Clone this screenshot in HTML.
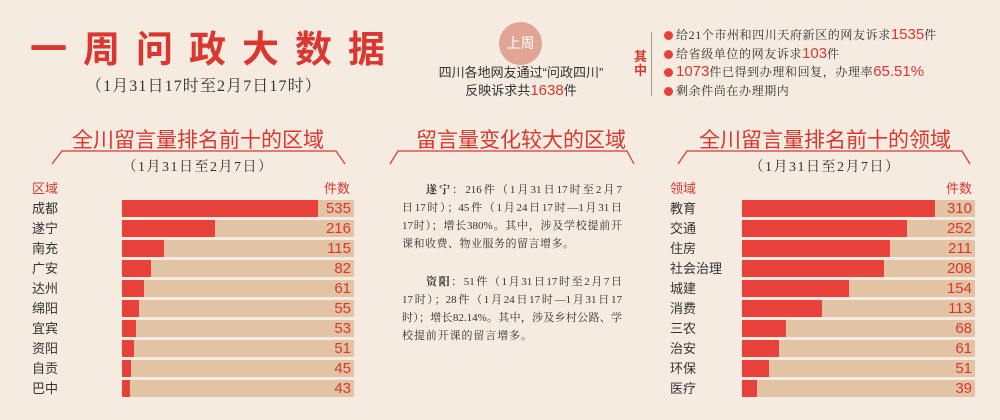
<!DOCTYPE html>
<html><head><meta charset="utf-8"><style>
body{margin:0;width:1000px;height:420px;background:#f5ebe0;position:relative;overflow:hidden;font-family:"Liberation Sans","Noto Sans CJK SC",sans-serif;}
.a{position:absolute;white-space:nowrap;}
.serif{font-family:"Liberation Serif","Noto Serif CJK SC",serif;}
.red{color:#d9372f;}
.bar{position:absolute;height:17px;background:#e2c4a4;}
.bar i{position:absolute;left:0;top:0;bottom:0;background:#e8413a;}
.bar b{position:absolute;right:3px;top:0;font-weight:normal;font-size:15px;line-height:17px;color:#d9372f;}
.lab{position:absolute;font-size:13px;color:#333;line-height:17px;}
.ml{position:absolute;left:402px;width:220px;height:18px;font-size:11px;color:#333;line-height:18px;text-align:justify;text-align-last:justify;text-justify:inter-character;}
.dot{display:inline-block;width:9px;height:9px;border-radius:50%;background:#e8413a;margin-right:3px;vertical-align:-1px;}
</style></head><body>
<div class="a red" style="left:30px;top:28px;font-size:37px;font-weight:bold;letter-spacing:16px;line-height:44px;">一周问政大数据</div>
<div class="a serif" style="left:86px;top:73px;font-size:16px;color:#333;letter-spacing:1.1px;">（1月31日17时至2月7日17时）</div>

<div class="a" style="left:499px;top:22px;width:43px;height:43px;border-radius:50%;background:#e0a595;color:#fff;font-size:14px;line-height:43px;text-align:center;">上周</div>
<div class="a" style="left:421px;top:64px;width:200px;text-align:center;font-size:13px;color:#333;line-height:18px;">四川各地网友通过“问政四川”<br>反映诉求共<span class="red" style="font-size:15px">1638</span>件</div>

<div class="a red" style="left:634px;top:50px;font-size:13px;line-height:14px;font-weight:bold;">其<br>中</div>
<div class="a" style="left:651px;top:32px;width:1px;height:64px;background:#999;"></div>
<div class="a serif" style="left:664px;top:26px;font-size:12px;color:#333;line-height:18.5px;letter-spacing:0.6px;">
<span class="dot"></span>给21个市州和四川天府新区的网友诉求<span class="red" style="font-family:'Liberation Sans';font-size:15px;letter-spacing:0">1535</span>件<br>
<span class="dot"></span>给省级单位的网友诉求<span class="red" style="font-family:'Liberation Sans';font-size:15px;letter-spacing:0">103</span>件<br>
<span class="dot"></span><span class="red" style="font-family:'Liberation Sans';font-size:15px;letter-spacing:0">1073</span>件已得到办理和回复，办理率<span class="red" style="font-family:'Liberation Sans';font-size:15px;letter-spacing:0">65.51%</span><br>
<span class="dot"></span>剩余件尚在办理期内</div>

<div class="a red" style="left:48px;top:124px;width:300px;text-align:center;font-size:21px;">全川留言量排名前十的区域</div>
<div class="a red" style="left:371px;top:124px;width:300px;text-align:center;font-size:21px;">留言量变化较大的区域</div>
<div class="a red" style="left:675px;top:124px;width:300px;text-align:center;font-size:21px;">全川留言量排名前十的领域</div>
<svg class="a" style="left:0;top:0" width="1000" height="420"><g fill="none" stroke="#d9372f" stroke-width="1.2">
<polyline points="52,164 62,151 336,151 345,164"/>
<polyline points="390,164 398,151 627,151 634,164"/>
<polyline points="678,164 687,151 962,151 970,164"/></g></svg>
<div class="a serif" style="left:48px;top:156px;width:300px;text-align:center;font-size:14px;color:#333;letter-spacing:1.5px;">（1月31日至2月7日）</div>
<div class="a serif" style="left:675px;top:156px;width:300px;text-align:center;font-size:14px;color:#333;letter-spacing:1.5px;">（1月31日至2月7日）</div>

<div class="a red" style="left:32px;top:178px;font-size:13px;">区域</div>
<div class="a red" style="left:324px;top:178px;font-size:13px;">件数</div>
<div class="a red" style="left:670px;top:178px;font-size:13px;">领域</div>
<div class="a red" style="left:946px;top:178px;font-size:13px;">件数</div>

<div class="ml serif" style="top:181px;left:426px;width:196px;"><b>遂宁</b>：216件（1月31日17时至2月7</div>
<div class="ml serif" style="top:199px;">日17时）；45件（1月24日17时—1月31日</div>
<div class="ml serif" style="top:217px;">17时）；增长380%。其中，涉及学校提前开</div>
<div class="ml serif" style="top:235px;width:172px;">课和收费、物业服务的留言增多。</div>
<div class="ml serif" style="top:273px;left:426px;width:196px;"><b>资阳</b>：51件（1月31日17时至2月7日</div>
<div class="ml serif" style="top:291px;">17时）；28件（1月24日17时—1月31日17</div>
<div class="ml serif" style="top:309px;">时）；增长82.14%。其中，涉及乡村公路、学</div>
<div class="ml serif" style="top:327px;width:130px;">校提前开课的留言增多。</div>

<div class="lab" style="left:32px;top:200px;">成都</div><div class="bar" style="left:122px;top:200px;width:232px;"><i style="width:196px"></i><b>535</b></div>
<div class="lab" style="left:32px;top:220px;">遂宁</div><div class="bar" style="left:122px;top:220px;width:232px;"><i style="width:93px"></i><b>216</b></div>
<div class="lab" style="left:32px;top:240px;">南充</div><div class="bar" style="left:122px;top:240px;width:232px;"><i style="width:42px"></i><b>115</b></div>
<div class="lab" style="left:32px;top:260px;">广安</div><div class="bar" style="left:122px;top:260px;width:232px;"><i style="width:29px"></i><b>82</b></div>
<div class="lab" style="left:32px;top:280px;">达州</div><div class="bar" style="left:122px;top:280px;width:232px;"><i style="width:22px"></i><b>61</b></div>
<div class="lab" style="left:32px;top:300px;">绵阳</div><div class="bar" style="left:122px;top:300px;width:232px;"><i style="width:17px"></i><b>55</b></div>
<div class="lab" style="left:32px;top:320px;">宜宾</div><div class="bar" style="left:122px;top:320px;width:232px;"><i style="width:14px"></i><b>53</b></div>
<div class="lab" style="left:32px;top:340px;">资阳</div><div class="bar" style="left:122px;top:340px;width:232px;"><i style="width:12px"></i><b>51</b></div>
<div class="lab" style="left:32px;top:360px;">自贡</div><div class="bar" style="left:122px;top:360px;width:232px;"><i style="width:9px"></i><b>45</b></div>
<div class="lab" style="left:32px;top:380px;">巴中</div><div class="bar" style="left:122px;top:380px;width:232px;"><i style="width:8px"></i><b>43</b></div>

<div class="lab" style="left:670px;top:200px;">教育</div><div class="bar" style="left:742px;top:200px;width:233px;"><i style="width:193px"></i><b>310</b></div>
<div class="lab" style="left:670px;top:220px;">交通</div><div class="bar" style="left:742px;top:220px;width:233px;"><i style="width:165px"></i><b>252</b></div>
<div class="lab" style="left:670px;top:240px;">住房</div><div class="bar" style="left:742px;top:240px;width:233px;"><i style="width:148px"></i><b>211</b></div>
<div class="lab" style="left:670px;top:260px;">社会治理</div><div class="bar" style="left:742px;top:260px;width:233px;"><i style="width:142px"></i><b>208</b></div>
<div class="lab" style="left:670px;top:280px;">城建</div><div class="bar" style="left:742px;top:280px;width:233px;"><i style="width:107px"></i><b>154</b></div>
<div class="lab" style="left:670px;top:300px;">消费</div><div class="bar" style="left:742px;top:300px;width:233px;"><i style="width:80px"></i><b>113</b></div>
<div class="lab" style="left:670px;top:320px;">三农</div><div class="bar" style="left:742px;top:320px;width:233px;"><i style="width:44px"></i><b>68</b></div>
<div class="lab" style="left:670px;top:340px;">治安</div><div class="bar" style="left:742px;top:340px;width:233px;"><i style="width:37px"></i><b>61</b></div>
<div class="lab" style="left:670px;top:360px;">环保</div><div class="bar" style="left:742px;top:360px;width:233px;"><i style="width:27px"></i><b>51</b></div>
<div class="lab" style="left:670px;top:380px;">医疗</div><div class="bar" style="left:742px;top:380px;width:233px;"><i style="width:15px"></i><b>39</b></div>
</body></html>
